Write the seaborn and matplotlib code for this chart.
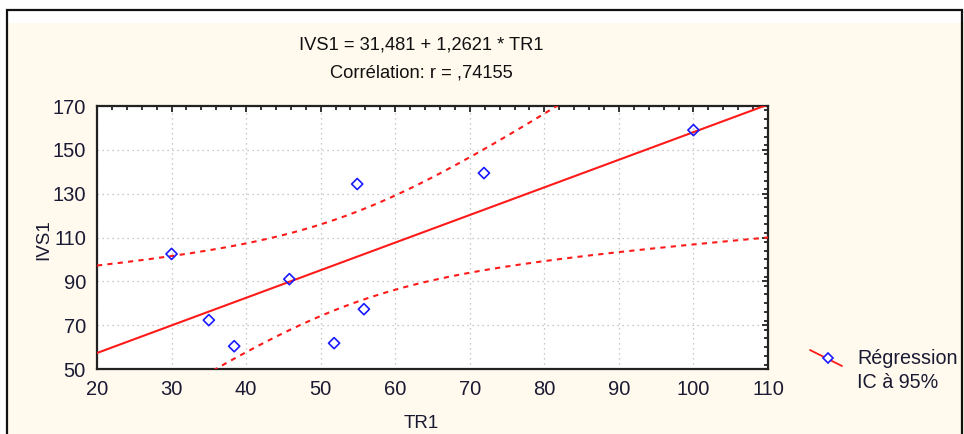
import numpy as np
import pandas as pd
import matplotlib
matplotlib.use("Agg")
import matplotlib.pyplot as plt
import seaborn as sns
from matplotlib.patches import Rectangle
from matplotlib.lines import Line2D
from matplotlib.ticker import MultipleLocator

# ---- data ----
tr1 = [30.0, 35.0, 38.4, 45.8, 54.9, 51.8, 55.8, 71.9, 100.0]
ivs1 = [102.5, 72.3, 60.4, 91.0, 134.4, 61.8, 77.3, 139.4, 159.0]
x_ticks = [20, 30, 40, 50, 60, 70, 80, 90, 100, 110]
y_ticks = [50, 70, 90, 110, 130, 150, 170]
title_lines = ["IVS1 = 31,481 + 1,2621 * TR1", "Corrélation: r = ,74155"]
x_label = "TR1"
y_label = "IVS1"
legend_labels = ["Régression", "IC à 95%"]
T_975_DF7 = 2.3646  # Student t quantile, df = n - 2 = 7

df = pd.DataFrame({"TR1": tr1, "IVS1": ivs1})

# regression + 95% confidence band for the mean
x = df["TR1"].to_numpy()
y = df["IVS1"].to_numpy()
n = len(x)
b1, b0 = np.polyfit(x, y, 1)
resid = y - (b0 + b1 * x)
s = np.sqrt(np.sum(resid ** 2) / (n - 2))
xm = x.mean()
sxx = np.sum((x - xm) ** 2)
xs = np.linspace(x_ticks[0], x_ticks[-1], 300)
fit = b0 + b1 * xs
half = T_975_DF7 * s * np.sqrt(1.0 / n + (xs - xm) ** 2 / sxx)
line_df = pd.DataFrame({"x": xs, "fit": fit, "lo": fit - half, "hi": fit + half})

sns.set_theme(style="white")
plt.rcParams["font.family"] = ["Liberation Sans", "DejaVu Sans"]

W, H = 964, 434
BG = "#FFF9EE"
RED = "#FF1A1A"
fig = plt.figure(figsize=(W / 100, H / 100), dpi=100, facecolor=BG)


def frect(x0, y0, x1, y1):
    return (x0 / W, 1 - y1 / H), (x1 - x0) / W, (y1 - y0) / H


for r in [(0, 0, W, 23), (0, 0, 7, H)]:
    xy, w, h = frect(*r)
    fig.patches.append(Rectangle(xy, w, h, transform=fig.transFigure,
                                 facecolor="white", edgecolor="none", zorder=0))
xy, w, h = frect(7, 10, 962, H + 10)
fig.patches.append(Rectangle(xy, w, h, transform=fig.transFigure,
                             facecolor="none", edgecolor="#111111", lw=1.6, zorder=1))

ax = fig.add_axes([97 / W, 1 - 369 / H, 671 / W, 263 / H])
ax.set_facecolor("white")

sns.lineplot(data=line_df, x="x", y="fit", ax=ax, color=RED, lw=1.5, zorder=3)
sns.lineplot(data=line_df, x="x", y="hi", ax=ax, color=RED, lw=1.5, zorder=3)
ax.lines[-1].set_dashes([2.5, 2.5])
sns.lineplot(data=line_df, x="x", y="lo", ax=ax, color=RED, lw=1.5, zorder=3)
ax.lines[-1].set_dashes([2.5, 2.5])
sns.scatterplot(data=df, x="TR1", y="IVS1", ax=ax, marker="D", s=32,
                facecolor="none", edgecolor="#1A1AFF", linewidth=1.2, zorder=4)

ax.set_xlim(x_ticks[0], x_ticks[-1])
ax.set_ylim(y_ticks[0], y_ticks[-1])
ax.set_xticks(x_ticks)
ax.set_yticks(y_ticks)
ax.xaxis.set_minor_locator(MultipleLocator(2))
ax.yaxis.set_minor_locator(MultipleLocator(4))
ax.tick_params(which="both", direction="in", top=True, right=True,
               colors="#222222", labelcolor="#1a1a33", labelsize=14.5)
ax.tick_params(which="major", length=4, width=1.3, pad=8)
ax.tick_params(which="minor", length=3, width=1.3)
ax.grid(True, which="major", ls=(0, (1, 3)), color="#b8b8b8", lw=0.9)
for sp in ax.spines.values():
    sp.set_color("#222222")
    sp.set_linewidth(1.6)
ax.set_xlabel("")
ax.set_ylabel("")

fig.text(421 / W, 1 - 45 / H, title_lines[0], ha="center", va="center",
         fontsize=13.2, color="#111111")
fig.text(421 / W, 1 - 73 / H, title_lines[1], ha="center", va="center",
         fontsize=13.2, color="#111111")
fig.text(421 / W, 1 - 424 / H, x_label, ha="center", va="center",
         fontsize=13.5, color="#1a1a33")
fig.text(44 / W, 1 - 240 / H, y_label, ha="center", va="center", rotation=90,
         fontsize=13.5, color="#1a1a33")

# legend (diagonal symbol as in the reference)
fig.lines.append(Line2D([810 / W, 842 / W], [1 - 350 / H, 1 - 366 / H],
                        transform=fig.transFigure, color=RED, lw=1.3))
fig.lines.append(Line2D([827.5 / W], [1 - 358 / H], transform=fig.transFigure,
                        marker="D", markersize=5.5, markerfacecolor="white",
                        markeredgecolor="#1A1AFF", markeredgewidth=1.2, ls="none"))
fig.text(857 / W, 1 - 359 / H, legend_labels[0], ha="left", va="center",
         fontsize=14.2, color="#1a1a33")
fig.text(857 / W, 1 - 382 / H, legend_labels[1], ha="left", va="center",
         fontsize=14.2, color="#1a1a33")

fig.savefig("out.png", dpi=100, facecolor=BG)
